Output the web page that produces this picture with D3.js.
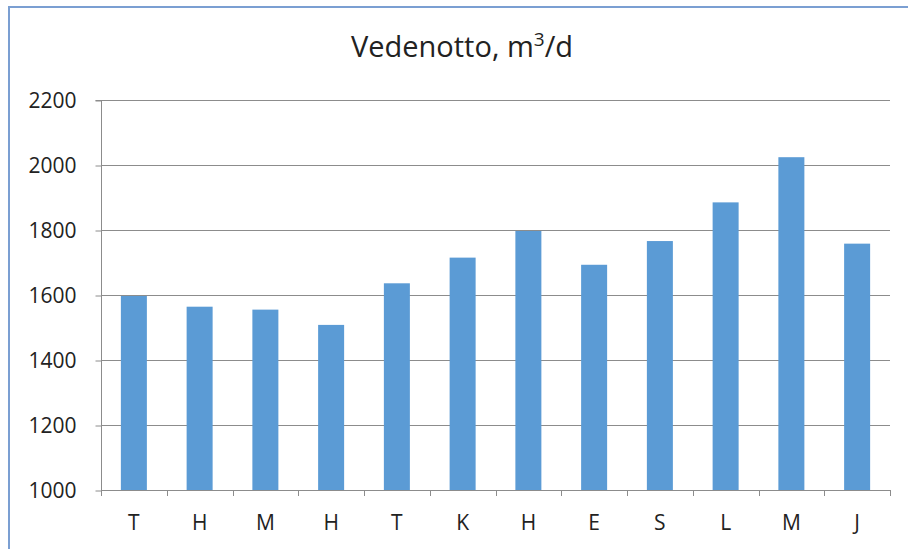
<!DOCTYPE html>
<html><head><meta charset="utf-8">
<script src="https://cdn.jsdelivr.net/npm/d3@7"></script>
<style>body{margin:0;background:#fff}svg{display:block}</style>
</head><body>
<svg id="c" width="908" height="549"></svg>
<script>
const categories = ["T","H","M","H","T","K","H","E","S","L","M","J"];
const values = [1597,1564,1555,1508,1636,1715,1797,1693,1766,1885,2024,1758];
const yTicks = [1000,1200,1400,1600,1800,2000,2200];

const svg = d3.select("#c");
const font = "'Open Sans', 'Noto Sans', sans-serif";
const m = {l:101, r:890, t:100, b:490};
const xb = d3.scaleBand().domain(d3.range(categories.length)).range([m.l, m.r]);
const y = d3.scaleLinear().domain([1000,2200]).range([m.b, m.t]);

// border
svg.append("path").attr("d","M9,549V7H908").attr("fill","none").attr("stroke","#7b9fd2").attr("stroke-width",2);

// title
const t = svg.append("text").attr("x",462).attr("y",57).attr("text-anchor","middle")
  .attr("font-family",font).attr("font-size",29).attr("fill","#222");
t.append("tspan").text("Vedenotto, m");
t.append("tspan").attr("dy",-11).attr("font-size",19).text("3");
t.append("tspan").attr("dy",11).text("/d");

// gridlines
svg.append("g").selectAll("line").data(yTicks.slice(1)).join("line")
  .attr("x1",m.l).attr("x2",m.r).attr("y1",d=>y(d)+0.5).attr("y2",d=>y(d)+0.5)
  .attr("stroke","#8c8c8c").attr("stroke-width",1);

// bars
svg.append("g").selectAll("rect").data(values).join("rect")
  .attr("x",(d,i)=>xb(i)+xb.bandwidth()/2-13).attr("width",26)
  .attr("y",d=>y(d)).attr("height",d=>y(1000)-y(d)).attr("fill","#5b9bd5");

// y axis
const ya = svg.append("g").attr("transform",`translate(${m.l+0.5},0)`)
  .call(d3.axisLeft(y).tickValues(yTicks).tickFormat(d3.format("d")).tickSize(6).tickPadding(19));
ya.select(".domain").attr("stroke","#8c8c8c").attr("d",`M-6,${y(2200)+0.5}H0V${y(1000)}`);
ya.selectAll(".tick line").attr("stroke","#8c8c8c").attr("transform","translate(0,0.5)");
ya.selectAll("text").attr("font-family",font).attr("font-size",21).attr("fill","#222").attr("dy","0.35em");

// x axis
const xa = svg.append("g").attr("transform",`translate(0,${m.b+0.5})`)
  .call(d3.axisBottom(xb).tickValues([]).tickSize(0));
xa.select(".domain").attr("stroke","#8c8c8c").attr("d",`M${m.l},0H${m.r}`);
svg.append("g").selectAll("line").data(d3.range(categories.length+1)).join("line")
  .attr("x1",i=>Math.round(m.l+i*xb.step())+0.5).attr("x2",i=>Math.round(m.l+i*xb.step())+0.5)
  .attr("y1",m.b).attr("y2",m.b+6).attr("stroke","#8c8c8c");
svg.append("g").selectAll("text").data(categories).join("text")
  .attr("x",(d,i)=>xb(i)+xb.bandwidth()/2).attr("y",530).attr("text-anchor","middle")
  .attr("font-family",font).attr("font-size",21).attr("fill","#222").text(d=>d);
</script>
</body></html>
